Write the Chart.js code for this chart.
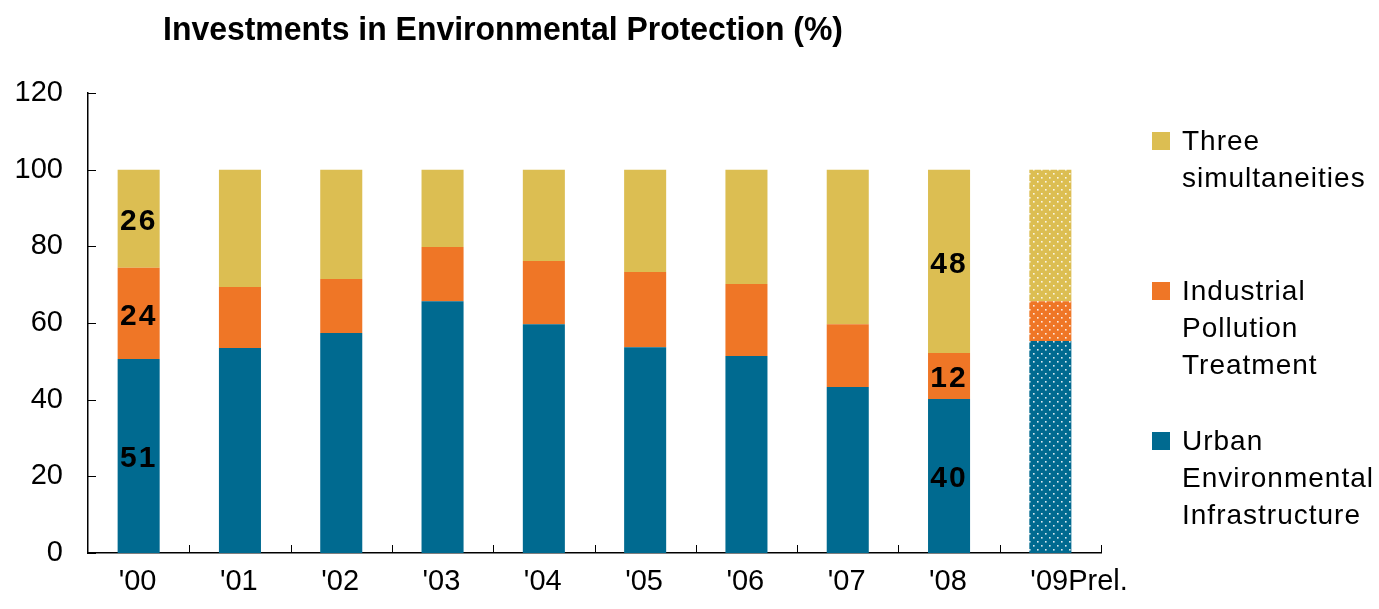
<!DOCTYPE html>
<html>
<head>
<meta charset="utf-8">
<script src="https://cdn.jsdelivr.net/npm/chart.js@4/dist/chart.umd.min.js"></script>
<style>
  html, body { margin: 0; padding: 0; background: #fff; }
  #wrap { width: 1379px; height: 609px; position: relative; }
</style>
</head>
<body>
<div id="wrap"><canvas id="investChart" width="1379" height="609"></canvas></div>
<script>
const years = ["'00", "'01", "'02", "'03", "'04", "'05", "'06", "'07", "'08", "'09Prel."];
const urbanInfra = [50.6, 53.5, 57.4, 65.7, 59.7, 53.7, 51.4, 43.3, 40.2, 55.3];
const industrialPollution = [23.8, 15.9, 14.1, 14.1, 16.5, 19.6, 18.8, 16.4, 12.0, 10.4];
const threeSimult = [25.6, 30.6, 28.5, 20.2, 23.8, 26.7, 29.8, 40.3, 47.8, 34.3];
const yTicks = [0, 20, 40, 60, 80, 100, 120];
const labelledYears = [0, 8];   // bars carrying value labels
const prelimIndex = 9;          // dotted (preliminary) bar

const BLUE = '#006A90';
const ORANGE = '#EF7626';
const YELLOW = '#DCBE52';
const FONT = '"Liberation Sans", Arial, sans-serif';

// dotted fill for the preliminary year
function dotted(color) {
    const c = document.createElement('canvas');
    c.width = 8; c.height = 8;
    const g = c.getContext('2d');
    g.fillStyle = color;
    g.fillRect(0, 0, 8, 8);
    g.fillStyle = 'rgba(255,255,255,0.85)';
    g.fillRect(1, 1, 1.6, 1.6);
    g.fillRect(5, 5, 1.6, 1.6);
    return g.createPattern(c, 'repeat');
}

function fills(color) {
    return years.map((y, i) => i === prelimIndex ? dotted(color) : color);
}

const innerTicks = {
    id: 'innerTicks',
    afterDraw(chart) {
        const ctx = chart.ctx;
        const x = chart.scales.x, y = chart.scales.y;
        ctx.save();
        ctx.strokeStyle = '#000';
        ctx.lineWidth = 1;
        yTicks.forEach(v => {
            const py = Math.round(y.getPixelForValue(v)) + 0.5;
            ctx.beginPath();
            ctx.moveTo(x.left, py);
            ctx.lineTo(x.left + 8, py);
            ctx.stroke();
        });
        const step = (x.right - x.left) / years.length;
        for (let i = 1; i <= years.length; i++) {
            const px = Math.round(x.left + step * i) + 0.5;
            ctx.beginPath();
            ctx.moveTo(px, y.bottom);
            ctx.lineTo(px, y.bottom - 8);
            ctx.stroke();
        }
        ctx.restore();
    }
};

const valueLabels = {
    id: 'valueLabels',
    afterDatasetsDraw(chart) {
        const ctx = chart.ctx;
        ctx.save();
        ctx.font = 'bold 30px ' + FONT;
        ctx.letterSpacing = '2px';
        ctx.fillStyle = '#000';
        ctx.textAlign = 'center';
        ctx.textBaseline = 'middle';
        chart.data.datasets.forEach((ds, di) => {
            const meta = chart.getDatasetMeta(di);
            labelledYears.forEach(i => {
                const bar = meta.data[i];
                ctx.fillText(String(Math.round(ds.data[i])), bar.x + 0, (bar.y + bar.base) / 2 + 3);
            });
        });
        ctx.restore();
    }
};

const sideLegend = {
    id: 'sideLegend',
    afterDraw(chart) {
        const ctx = chart.ctx;
        const tops = [132, 282, 432];
        ctx.save();
        ctx.font = '28px ' + FONT;
        ctx.letterSpacing = '1px';
        ctx.textBaseline = 'middle';
        const order = chart.data.datasets.slice().reverse();
        order.forEach((ds, k) => {
            ctx.fillStyle = ds.legendColor;
            ctx.fillRect(1152, tops[k], 18, 18);
            ctx.fillStyle = '#000';
            ds.legendLines.forEach((line, j) => {
                ctx.fillText(line, 1182, tops[k] + 10 + j * 37);
            });
        });
        ctx.restore();
    }
};

const titlePlugin = {
    id: 'titlePlugin',
    afterDraw(chart) {
        const ctx = chart.ctx;
        const text = 'Investments in Environmental Protection (%)';
        ctx.save();
        ctx.font = 'bold 34px ' + FONT;
        ctx.fillStyle = '#000';
        ctx.textBaseline = 'alphabetic';
        const w = ctx.measureText(text).width;
        ctx.translate(163, 40);
        ctx.scale(680 / w, 1);
        ctx.fillText(text, 0, 0);
        ctx.restore();
    }
};

new Chart(document.getElementById('investChart').getContext('2d'), {
    type: 'bar',
    data: {
        labels: years,
        datasets: [
            { label: 'Urban Environmental Infrastructure', legendLines: ['Urban', 'Environmental', 'Infrastructure'],
              data: urbanInfra, backgroundColor: fills(BLUE), legendColor: BLUE },
            { label: 'Industrial Pollution Treatment', legendLines: ['Industrial', 'Pollution', 'Treatment'],
              data: industrialPollution, backgroundColor: fills(ORANGE), legendColor: ORANGE },
            { label: 'Three simultaneities', legendLines: ['Three', 'simultaneities'],
              data: threeSimult, backgroundColor: fills(YELLOW), legendColor: YELLOW }
        ]
    },
    options: {
        responsive: false,
        animation: false,
        layout: { padding: { left: 0, right: 278, top: 93, bottom: 0 } },
        datasets: { bar: { barPercentage: 0.415, categoryPercentage: 1 } },
        plugins: {
            legend: { display: false },
            tooltip: { enabled: false },
            title: { display: false }
        },
        scales: {
            x: {
                stacked: true,
                grid: { display: false, drawTicks: false },
                border: { display: true, color: '#000', width: 1.5 },
                ticks: { color: '#000', font: { family: FONT, size: 29 }, padding: 12, align: 'start', labelOffset: -20, maxRotation: 0, autoSkip: false },
                afterFit(scale) { scale.height = 56; }
            },
            y: {
                stacked: true,
                min: 0, max: 120,
                afterBuildTicks(scale) { scale.ticks = yTicks.map(v => ({ value: v })); },
                grid: { display: false, drawTicks: false },
                border: { display: true, color: '#000', width: 1.5 },
                ticks: { color: '#000', font: { family: FONT, size: 29 }, padding: 25 },
                afterFit(scale) { scale.width = 88; }
            }
        }
    },
    plugins: [innerTicks, valueLabels, sideLegend, titlePlugin]
});
</script>
</body>
</html>
